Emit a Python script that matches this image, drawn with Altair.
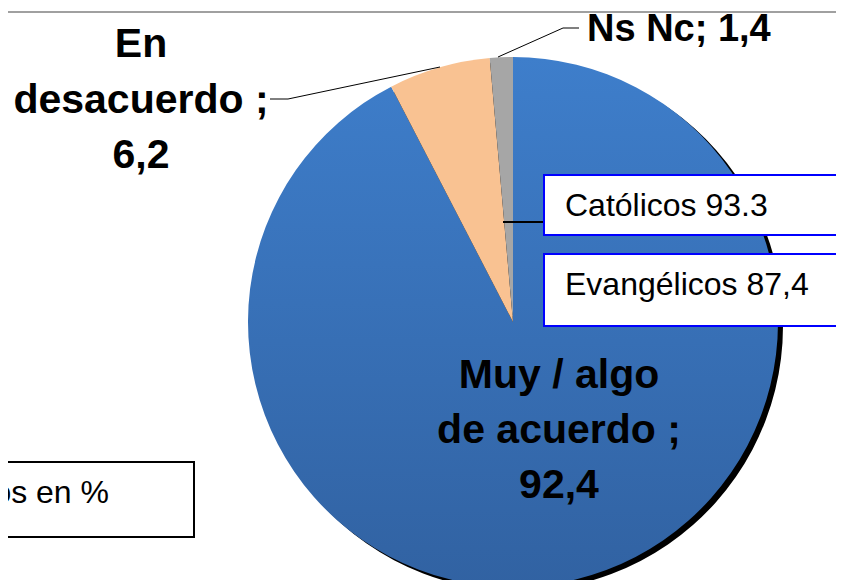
import altair as alt
import pandas as pd

# ---- data ----
categories = ["Muy / algo de acuerdo", "En desacuerdo", "Ns Nc"]
values = [92.4, 6.2, 1.4]
value_labels = ["92,4", "6,2", "1,4"]
slice_colors = ["#3b78c4", "#f9c292", "#a6a6a6"]
box_labels = ["Católicos 93.3", "Evangélicos 87,4"]
note_label = "os en %"

df = pd.DataFrame({"cat": categories, "value": values, "idx": list(range(len(values)))})
one = pd.DataFrame({"a": [0]})

W, H = 828, 572
CX, CY, R = 505, 314, 265
FONT = "Liberation Sans"

blue_grad = {
    "gradient": "linear", "x1": 0, "y1": 0, "x2": 0, "y2": 1,
    "stops": [{"offset": 0, "color": "#3e7ecb"}, {"offset": 1, "color": "#3162a2"}],
}

theta = alt.Theta("value:Q", stack=True)
order = alt.Order("idx:Q")

shadow = alt.Chart(df).mark_arc(radius=R, fill="black").encode(
    theta=theta, order=order, x=alt.value(CX + 5), y=alt.value(CY + 4)
)

pie = alt.Chart(df).mark_arc(radius=R).encode(
    theta=theta,
    order=order,
    fill=alt.condition(
        alt.datum.cat == categories[0],
        alt.value(blue_grad),
        alt.Fill("cat:N", scale=alt.Scale(domain=categories, range=slice_colors), legend=None),
    ),
    x=alt.value(CX),
    y=alt.value(CY),
)


def rule(x1, y1, x2, y2, color="black", w=1):
    return alt.Chart(one).mark_rule(color=color, strokeWidth=w).encode(
        x=alt.value(x1), y=alt.value(y1), x2=alt.value(x2), y2=alt.value(y2)
    )


def text(lines, x, y, size, align="center", weight="bold", lh=55):
    return alt.Chart(one).mark_text(
        font=FONT, fontSize=size, fontWeight=weight, align=align,
        baseline="alphabetic", lineHeight=lh, color="black",
    ).encode(text=alt.value(lines), x=alt.value(x), y=alt.value(y))


def box(x1, y1, x2, y2, stroke):
    return alt.Chart(one).mark_rect(fill="white", stroke=stroke, strokeWidth=2).encode(
        x=alt.value(x1), y=alt.value(y1), x2=alt.value(x2), y2=alt.value(y2)
    )


layers = [
    rule(0, 4, W, 4, color="#a0a0a0", w=2),
    shadow,
    pie,
    rule(490, 49, 555, 20),
    rule(555, 20, 571, 20),
    rule(432, 59, 280, 91),
    rule(280, 91, 262, 91),
    rule(495, 214, 536, 214, w=2),
    text(["En", "desacuerdo ;", value_labels[1]], 133, 49, 41, lh=55.5),
    text(["Muy / algo", "de acuerdo ;", value_labels[0]], 551, 380, 41, lh=55),
    text([categories[2] + "; " + value_labels[2]], 579, 33, 38, align="left"),
    box(536, 167, W + 6, 227, "#0000ff"),
    box(536, 246, W + 6, 318, "#0000ff"),
    text([box_labels[0]], 557, 208, 32, align="left", weight="normal"),
    text([box_labels[1]], 557, 287, 32, align="left", weight="normal"),
    box(-20, 454, 186, 529, "black"),
    text([note_label], 101, 495, 32, align="right", weight="normal"),
]

chart = alt.layer(*layers).properties(
    width=W, height=H, autosize=alt.AutoSizeParams(type="none"), padding=0
).configure_view(stroke=None)

chart.save("out.html", embed_options={"renderer": "svg", "actions": False})
